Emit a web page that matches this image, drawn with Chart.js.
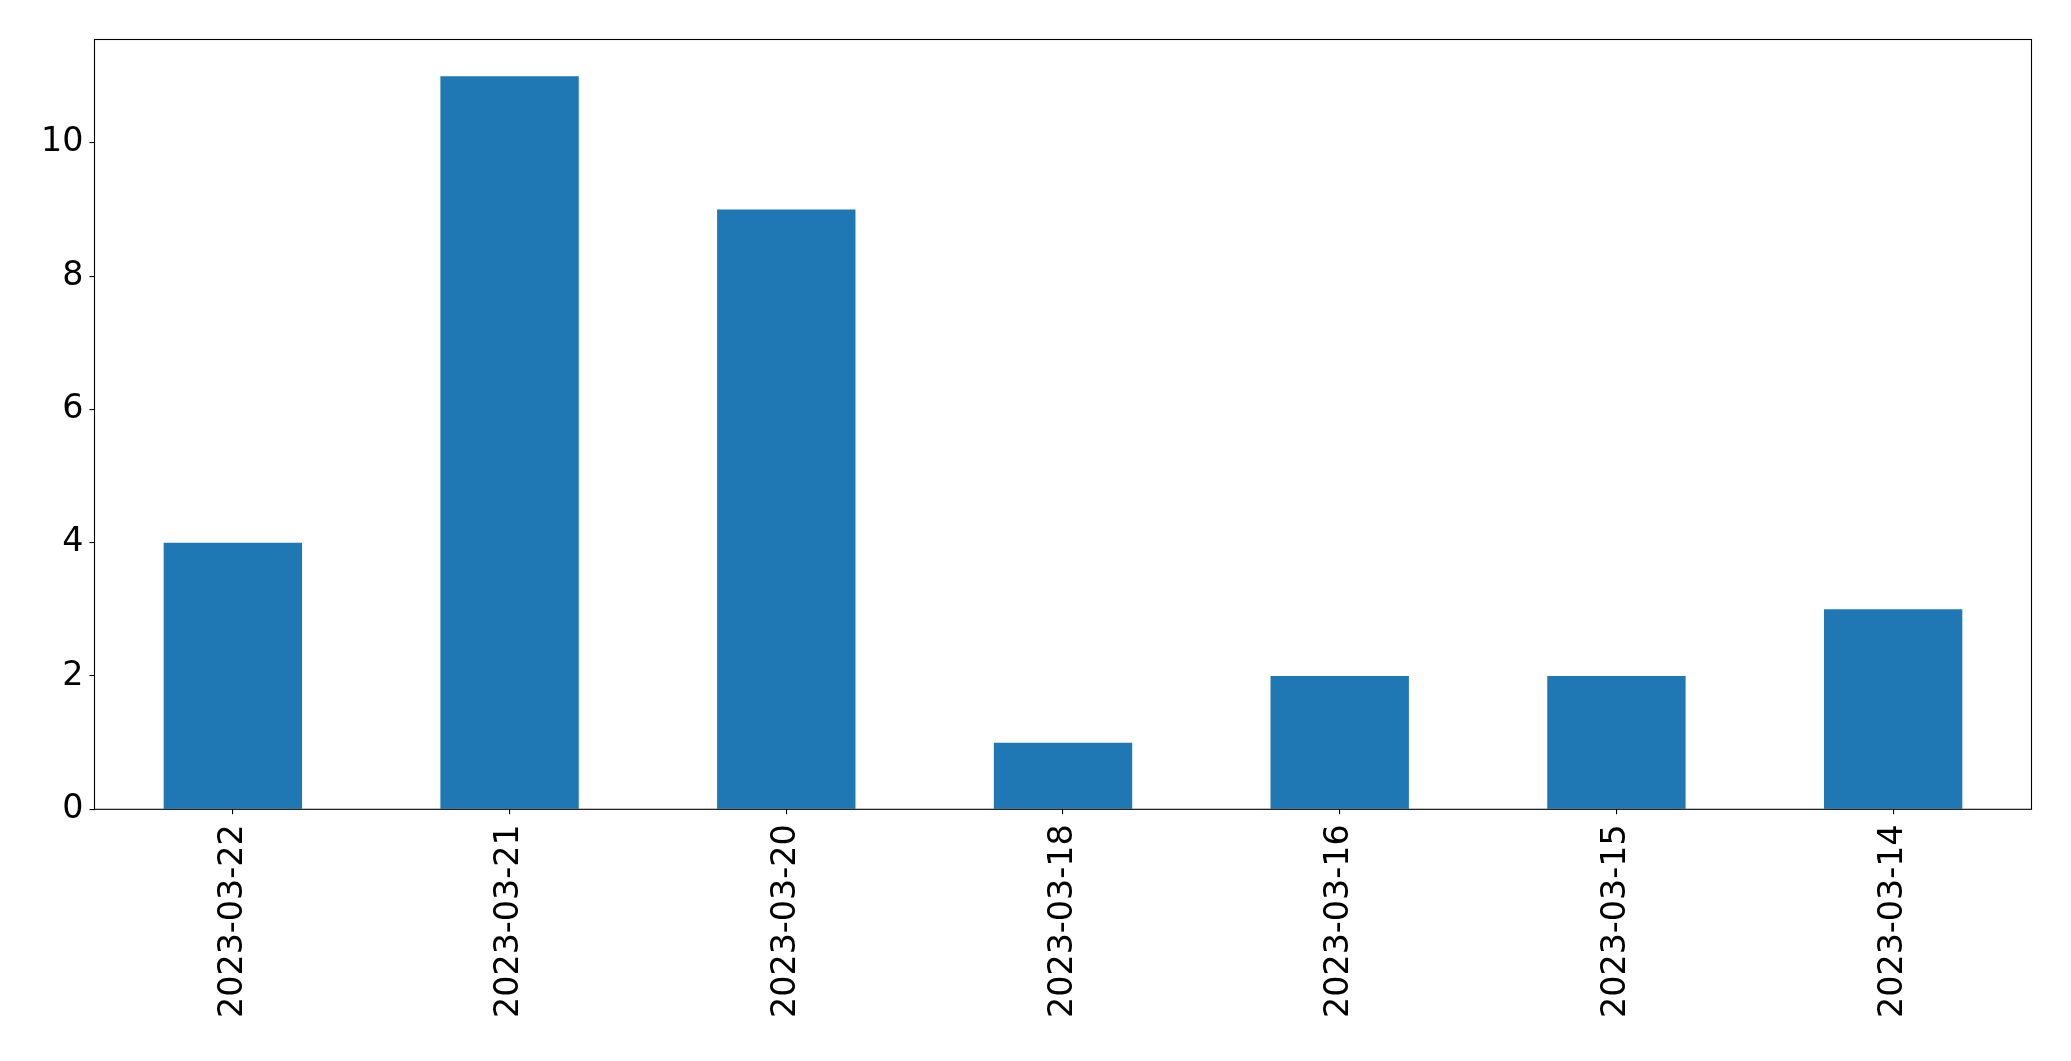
<!DOCTYPE html>
<html>
<head>
<meta charset="utf-8">
<script src="https://cdn.jsdelivr.net/npm/chart.js@4.4.0/dist/chart.umd.min.js"></script>
<style>
html,body{margin:0;padding:0;background:#fff;}
#wrap{width:2071px;height:1061px;position:relative;}
</style>
</head>
<body>
<div id="wrap"><canvas id="c" width="2071" height="1061"></canvas></div>
<script>
const categories = ["2023-03-22","2023-03-21","2023-03-20","2023-03-18","2023-03-16","2023-03-15","2023-03-14"];
const counts = [4, 11, 9, 1, 2, 2, 3];
const yTicks = [0, 2, 4, 6, 8, 10];
const yMax = 11.55;

const frame = {
  id: 'frame',
  afterDatasetsDraw(chart) {
    const a = chart.chartArea, ctx = chart.ctx;
    ctx.save();
    ctx.strokeStyle = '#000';
    ctx.lineWidth = 1.1;
    ctx.strokeRect(a.left, a.top, a.right - a.left, a.bottom - a.top);
    ctx.restore();
  }
};

new Chart(document.getElementById('c'), {
  type: 'bar',
  data: {
    labels: categories,
    datasets: [{
      data: counts,
      backgroundColor: '#1f77b4',
      borderWidth: 0,
      categoryPercentage: 1.0,
      barPercentage: 0.5
    }]
  },
  options: {
    responsive: false,
    animation: false,
    devicePixelRatio: 1,
    layout: { padding: { left: 0, top: 39.5, right: 39.5, bottom: 0 } },
    plugins: { legend: { display: false }, tooltip: { enabled: false } },
    scales: {
      x: {
        offset: true,
        grid: { display: true, drawOnChartArea: false, tickLength: 5, color: '#000', lineWidth: 1.1, offset: false },
        border: { display: false },
        ticks: {
          color: '#000',
          font: { family: 'DejaVu Sans', size: 33.33 },
          minRotation: 90, maxRotation: 90,
          padding: 10,
          autoSkip: false
        },
        afterFit(s) { s.height = 1061 - 809.3; }
      },
      y: {
        min: 0, max: yMax,
        grid: { display: true, drawOnChartArea: false, tickLength: 5, color: '#000', lineWidth: 1.1 },
        border: { display: false },
        afterBuildTicks(s) { s.ticks = yTicks.map(v => ({ value: v })); },
        ticks: {
          color: '#000',
          font: { family: 'DejaVu Sans', size: 33.33 },
          padding: 6
        },
        afterFit(s) { s.width = 94.5; }
      }
    }
  },
  plugins: [frame]
});
</script>
</body>
</html>
